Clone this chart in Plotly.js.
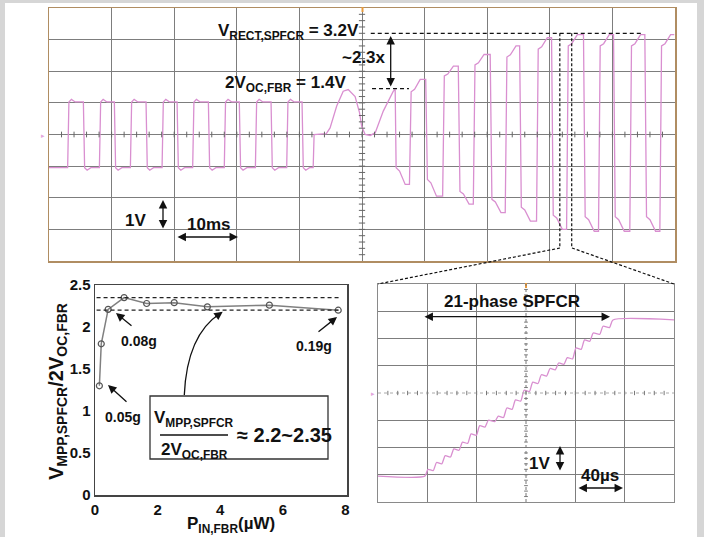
<!DOCTYPE html>
<html><head><meta charset="utf-8">
<script src="https://cdn.plot.ly/plotly-3.0.1.min.js"></script>
<style>html,body{margin:0;padding:0;background:#fff}#chart{width:704px;height:537px}</style>
</head><body><div id="chart"></div>
<script>
// ---------- Top oscilloscope (time ms, voltage V) ----------
const sqRise = [3.08, 8.15, 13.1, 18.16, 23.05, 28.1, 33.07, 38.07];
const sqFall = [5.59, 10.54, 15.6, 20.56, 25.56, 30.5, 35.57, 40.52];
const sqHigh = 1.03, sqLow = -1.05, sqEnd = 42.2;
const bumpT = [42.2, 42.35, 44.3, 44.9, 45.96, 47.0, 47.8, 48.9, 49.6, 49.95, 50.5, 51.3, 52.1, 53.4, 54.5, 55.0, 55.3];
const bumpV = [-1.05, 0.0, 0.03, 0.21, 0.9, 1.37, 1.42, 1.2, 0.69, 0.26, 0.0, -0.03, 0.05, 0.74, 1.2, 1.37, 1.42];
const edgeT = [55.3, 57.7, 60.3, 63.0, 65.5, 67.9, 70.6, 73.0, 75.3, 78.0, 80.4, 82.8, 85.5, 87.9, 90.3, 92.9, 95.3, 97.7];
const edgeStartV = [-1.05, 1.35, -1.42, 1.85, -1.8, 2.2, -2.05, 2.45, -2.3, 2.7, -2.55, 2.8, -2.6, 2.8, -2.6, 2.8, -2.6, 2.8];
const edgeEndV = [-1.58, 1.74, -1.95, 2.16, -2.2, 2.53, -2.47, 2.8, -2.74, 3.06, -3.0, 3.16, -3.06, 3.16, -3.06, 3.16, -3.06, 3.16];
const topEndT = 100;
const vRect = 3.2, vOc2 = 1.45;

// ---------- Bottom-left plot ----------
const pIn = [0.14, 0.2, 0.42, 0.93, 1.65, 2.53, 3.59, 5.57, 7.77];
const ratio = [1.3, 1.8, 2.21, 2.35, 2.28, 2.29, 2.24, 2.26, 2.2];
const refLevels = [2.35, 2.2];
const xTicks = [0, 2, 4, 6, 8];
const yTicks = [0, 0.5, 1, 1.5, 2, 2.5];
const yTickText = ['0', '0.5', '1', '1.5', '2', '2.5'];

// ---------- Bottom-right oscilloscope (time us, voltage V) ----------
const rampLowV = -3.05;
const stepT = [38, 45, 52, 59, 66, 73, 80, 87, 95, 102, 109, 116, 123, 130, 137, 144, 151, 158, 165, 172, 180];
const stepV = [-2.85, -2.6, -2.35, -2.1, -1.85, -1.55, -1.25, -1.05, -0.9, -0.6, -0.3, 0.05, 0.35, 0.62, 0.85, 1.05, 1.25, 1.6, 1.9, 2.15, 2.4];
const rampEndT = 188, rampHighV = 2.68, rampTEnd = 240;

const W = 704, H = 537;
const px = x => x / W, py = y => 1 - y / H;
const FONT = 'Liberation Sans, Arial, sans-serif';
const PINK = '#d98fd0';

// build top waveform polyline
const tx = [0], ty = [sqLow];
for (let i = 0; i < sqRise.length; i++) {
  const r = sqRise[i], f = sqFall[i];
  tx.push(r - 0.1, r + 0.1, r + 0.5, r + 1.1, f - 0.1, f + 0.1, f + 0.5, f + 1.1);
  ty.push(sqLow, sqHigh, sqHigh + 0.08, sqHigh, sqHigh, sqLow, sqLow - 0.08, sqLow);
}
tx.push(sqEnd - 0.1); ty.push(sqLow);
bumpT.forEach((t, i) => { tx.push(t); ty.push(bumpV[i]); });
for (let i = 0; i < edgeT.length; i++) {
  const t0 = edgeT[i], t1 = i + 1 < edgeT.length ? edgeT[i + 1] : topEndT;
  const a = edgeStartV[i], b = edgeEndV[i];
  tx.push(t0 + 0.15, t0 + 0.7, t0 + 1.6, t1 - 0.12);
  ty.push(a, a + (b - a) * 0.2, b, b);
}

// build ramp polyline
const rx = [0, stepT[0]], ry = [rampLowV, rampLowV];
for (let i = 0; i < stepT.length; i++) {
  const next = i + 1 < stepT.length ? stepT[i + 1] : rampEndT;
  rx.push(stepT[i] + 2.5, next - 0.3);
  ry.push(stepV[i] + 0.05, stepV[i]);
}
rx.push(rampEndT + 2.5, rampTEnd); ry.push(rampHighV, rampHighV);

const traces = [
  {x: tx, y: ty, xaxis: 'x', yaxis: 'y', mode: 'lines', line: {color: PINK, width: 1.3}, hoverinfo: 'skip'},
  {x: pIn, y: ratio, xaxis: 'x2', yaxis: 'y2', mode: 'lines+markers', line: {color: '#808080', width: 1.5},
   marker: {symbol: 'circle-open', size: 6, color: '#555', line: {width: 1.2}}, hoverinfo: 'skip'},
  {x: rx, y: ry, xaxis: 'x3', yaxis: 'y3', mode: 'lines', line: {color: PINK, width: 1.3, shape: 'spline', smoothing: 0.6}, hoverinfo: 'skip'}
];

const shapes = [];
// white panel
shapes.push({type: 'rect', xref: 'paper', yref: 'paper', x0: px(5), x1: px(697), y0: 0, y1: py(3), fillcolor: '#fff', line: {width: 0}, layer: 'below'});
// top scope minor ticks on centre lines
for (let k = 1; k < 50; k++) shapes.push({type: 'line', xref: 'x', yref: 'y', x0: k * 2, x1: k * 2, y0: -0.09, y1: 0.09, line: {color: '#666', width: 1}});
for (let k = -19; k < 20; k++) if (k) shapes.push({type: 'line', xref: 'x', yref: 'y', x0: 49.5, x1: 50.5, y0: k * 0.2, y1: k * 0.2, line: {color: '#666', width: 1}});
// top scope dashed reference lines
shapes.push({type: 'line', xref: 'x', yref: 'y', x0: 51.4, x1: 95, y0: vRect, y1: vRect, line: {color: '#111', width: 1.2, dash: '4px,3px'}});
shapes.push({type: 'line', xref: 'x', yref: 'y', x0: 51.6, x1: 57.5, y0: vOc2, y1: vOc2, line: {color: '#111', width: 1.2, dash: '4px,3px'}});
shapes.push({type: 'line', xref: 'x', yref: 'y', x0: 81.6, x1: 81.6, y0: vRect, y1: -3.58, line: {color: '#111', width: 1.2, dash: '3px,2px'}});
shapes.push({type: 'line', xref: 'x', yref: 'y', x0: 83.5, x1: 83.5, y0: vRect, y1: -3.58, line: {color: '#111', width: 1.2, dash: '3px,2px'}});
// zoom connectors
shapes.push({type: 'line', xref: 'paper', yref: 'paper', x0: px(560), y0: py(248), x1: px(378), y1: py(284), line: {color: '#111', width: 1.2, dash: '3px,2px'}});
shapes.push({type: 'line', xref: 'paper', yref: 'paper', x0: px(572), y0: py(248), x1: px(674), y1: py(284), line: {color: '#111', width: 1.2, dash: '3px,2px'}});
// trigger marks
shapes.push({type: 'line', xref: 'paper', yref: 'paper', x0: px(362.5), x1: px(362.5), y0: py(7), y1: py(12), line: {color: '#e89a3c', width: 2}});
shapes.push({type: 'line', xref: 'paper', yref: 'paper', x0: px(526), x1: px(526), y0: py(283), y1: py(288), line: {color: '#e89a3c', width: 2}});
// bottom-left reference lines
refLevels.forEach(v => shapes.push({type: 'line', xref: 'x2', yref: 'y2', x0: 0.05, x1: 7.85, y0: v, y1: v, line: {color: '#222', width: 1.2, dash: '4px,3px'}}));
// formula box
shapes.push({type: 'rect', xref: 'paper', yref: 'paper', x0: px(150), x1: px(328), y0: py(459), y1: py(396), fillcolor: '#fff', line: {color: '#333', width: 1.3}});
shapes.push({type: 'line', xref: 'paper', yref: 'paper', x0: px(160), x1: px(228), y0: py(435), y1: py(435), line: {color: '#111', width: 1.5}});
// curved arrow
shapes.push({type: 'path', xref: 'paper', yref: 'paper', path: `M ${px(184.3)} ${py(395)} Q ${px(187)} ${py(335)} ${px(220)} ${py(313.5)}`, line: {color: '#111', width: 1.3}});
// bottom-right centre lines (dotted) and minor ticks
shapes.push({type: 'line', xref: 'x3', yref: 'y3', x0: 0, x1: 240, y0: 0, y1: 0, line: {color: '#aaa', width: 1, dash: 'dot'}});
shapes.push({type: 'line', xref: 'x3', yref: 'y3', x0: 120, x1: 120, y0: -4, y1: 4, line: {color: '#777', width: 1, dash: 'dot'}});
for (let k = 1; k < 30; k++) shapes.push({type: 'line', xref: 'x3', yref: 'y3', x0: k * 8, x1: k * 8, y0: -0.08, y1: 0.08, line: {color: '#777', width: 1}});
for (let k = -19; k < 20; k++) if (k) shapes.push({type: 'line', xref: 'x3', yref: 'y3', x0: 118.5, x1: 121.5, y0: k * 0.2, y1: k * 0.2, line: {color: '#777', width: 1}});

function txt(x, y, text, size, opts) {
  return Object.assign({xref: 'paper', yref: 'paper', x: px(x), y: py(y), text: text, showarrow: false,
    font: {family: FONT, size: size, color: '#111'}, xanchor: 'center', yanchor: 'middle'}, opts || {});
}
function arrow(x1, y1, x2, y2, both) {
  return {xref: 'paper', yref: 'paper', x: px(x2), y: py(y2), ax: x1 - x2, ay: y1 - y2, axref: 'pixel', ayref: 'pixel',
    text: '', showarrow: true, arrowhead: 2, arrowsize: 1.3, arrowwidth: 1.3, arrowcolor: '#111',
    arrowside: both ? 'end+start' : 'end', startarrowhead: 2, startarrowsize: 1.3, standoff: 0, startstandoff: 0};
}

const annotations = [
  txt(361, 32, '<b>V<sub>RECT,SPFCR</sub> = 3.2V</b>', 17, {xanchor: 'right'}),
  txt(348, 84, '<b>2V<sub>OC,FBR</sub> = 1.4V</b>', 17, {xanchor: 'right'}),
  txt(388, 57, '<b>~2.3x</b>', 17, {xanchor: 'right'}),
  arrow(390.7, 88, 390.7, 36, true),
  txt(148, 220, '<b>1V</b>', 17, {xanchor: 'right'}),
  arrow(163, 230, 163, 200, true),
  txt(208, 225, '<b>10ms</b>', 17),
  arrow(176, 237, 238, 237, true),
  txt(43, 135, '▸', 7, {font: {family: FONT, size: 7, color: '#e3a6dc'}}),
  txt(373, 393, '▸', 7, {font: {family: FONT, size: 7, color: '#e3a6dc'}}),
  // bottom-right
  txt(511.7, 301, '<b>21-phase SPFCR</b>', 17),
  arrow(423, 316.7, 610, 316.7, true),
  txt(552, 463, '<b>1V</b>', 17, {xanchor: 'right'}),
  arrow(560, 472, 560, 446, true),
  txt(600, 475, '<b>40µs</b>', 17),
  arrow(577, 488, 623, 488, true),
  // bottom-left
  txt(122.5, 416.7, '<b>0.05g</b>', 14),
  arrow(128, 403, 108, 385),
  txt(139, 341, '<b>0.08g</b>', 14),
  arrow(133, 327, 116, 313),
  txt(314, 346, '<b>0.19g</b>', 14),
  arrow(317, 333, 337, 317),
  txt(194, 432, '<b>V<sub>MPP,SPFCR</sub></b>', 17, {yanchor: 'bottom'}),
  txt(194, 438, '<b>2V<sub>OC,FBR</sub></b>', 17, {yanchor: 'top'}),
  txt(284, 435, '<b>≈ 2.2~2.35</b>', 20),
  arrow(214, 318, 222.7, 311.7),
  txt(231, 525, '<b>P<sub>IN,FBR</sub>(µW)</b>', 17),
  txt(57, 392, '<b>V<sub>MPP,SPFCR</sub>/2V<sub>OC,FBR</sub></b>', 20, {textangle: -90})
];

const scopeGrid = '#7d7d7d';
const layout = {
  width: W, height: H, margin: {l: 0, r: 0, t: 0, b: 0}, showlegend: false,
  paper_bgcolor: '#d6d6d6', plot_bgcolor: '#fff',
  xaxis: {domain: [px(49), px(675)], range: [0, 100], tickvals: [10, 20, 30, 40, 50, 60, 70, 80, 90], showticklabels: false, ticks: '',
    showgrid: true, gridcolor: scopeGrid, gridwidth: 1, zeroline: false, showline: true, linecolor: '#b08d62', linewidth: 1.5, mirror: true, anchor: 'y'},
  yaxis: {domain: [py(261), py(8)], range: [-4, 4], tickvals: [-3, -2, -1, 0, 1, 2, 3], showticklabels: false, ticks: '',
    showgrid: true, gridcolor: scopeGrid, gridwidth: 1, zeroline: false, showline: true, linecolor: '#b08d62', linewidth: 1.5, mirror: true, anchor: 'x'},
  xaxis2: {domain: [px(95), px(347)], range: [0, 8.05], tickvals: xTicks, ticktext: xTicks.map(v => '<b>' + v + '</b>'), ticks: '',
    tickfont: {family: FONT, size: 15, color: '#111'}, showgrid: false, zeroline: false, showline: true, linecolor: '#444', linewidth: 1.5, mirror: true, anchor: 'y2'},
  yaxis2: {domain: [py(495), py(285)], range: [0, 2.5], tickvals: yTicks, ticktext: yTickText.map(v => '<b>' + v + '</b>'), ticks: '',
    tickfont: {family: FONT, size: 15, color: '#111'}, showgrid: false, zeroline: false, showline: true, linecolor: '#444', linewidth: 1.5, mirror: true, anchor: 'x2'},
  xaxis3: {domain: [px(378), px(674)], range: [0, 240], tickvals: [40, 80, 160, 200], showticklabels: false, ticks: '',
    showgrid: true, gridcolor: scopeGrid, gridwidth: 1, zeroline: false, showline: true, linecolor: '#8a8a8a', linewidth: 1.3, mirror: true, anchor: 'y3'},
  yaxis3: {domain: [py(502), py(284)], range: [-4, 4], tickvals: [-3, -2, -1, 1, 2, 3], showticklabels: false, ticks: '',
    showgrid: true, gridcolor: scopeGrid, gridwidth: 1, zeroline: false, showline: true, linecolor: '#8a8a8a', linewidth: 1.3, mirror: true, anchor: 'x3'},
  shapes: shapes, annotations: annotations
};

Plotly.newPlot('chart', traces, layout, {staticPlot: true, displayModeBar: false});
</script></body></html>
